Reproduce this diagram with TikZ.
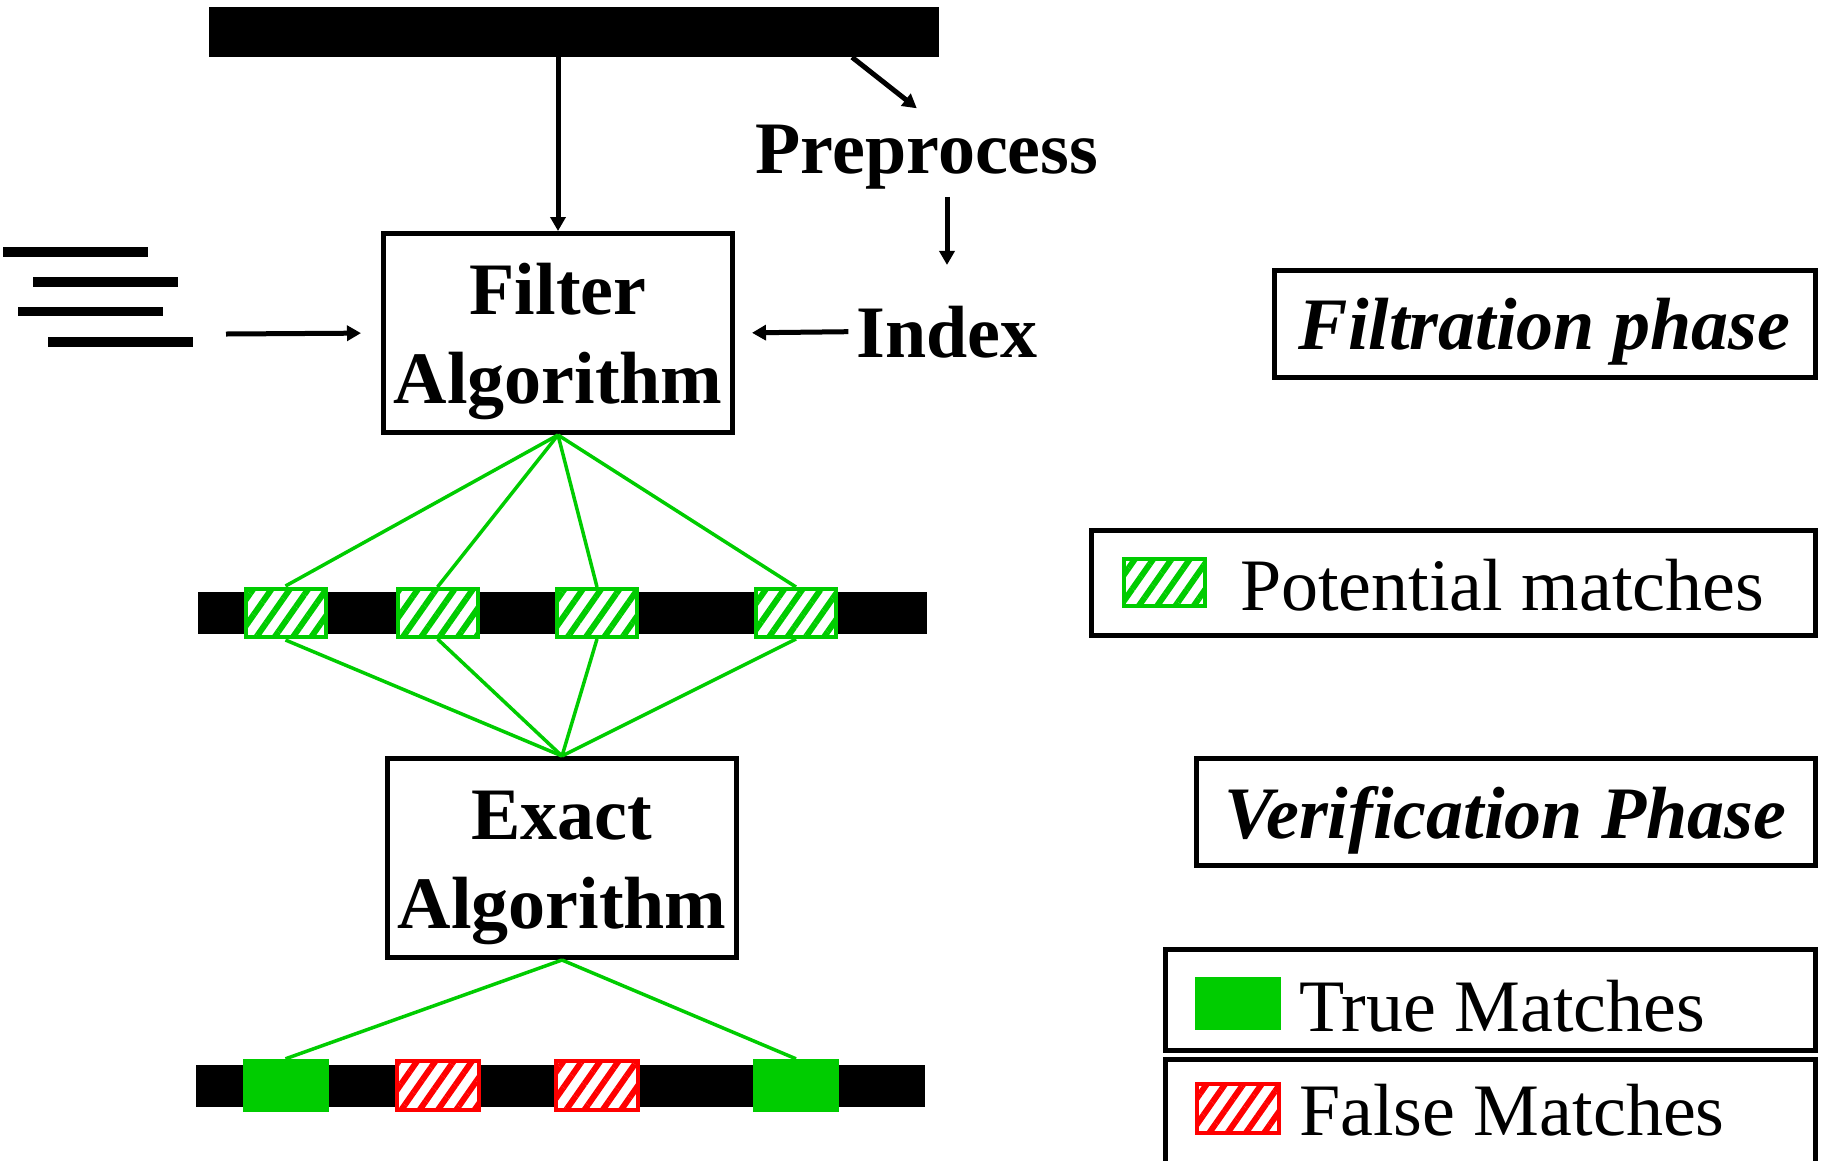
\documentclass[tikz,border=0pt]{standalone}
\usepackage{fontspec}
\setmainfont{Liberation Serif}
\usetikzlibrary{arrows.meta,positioning,patterns.meta}
\definecolor{hitgreen}{RGB}{0,204,0}
\definecolor{hitred}{RGB}{255,0,0}

\begin{document}
\begin{tikzpicture}[x=1pt, y=1pt, font=\fontsize{74}{89}\selectfont,
      arr/.style={-{Triangle[length=14pt,width=15pt]}, line width=5pt},
      algbox/.style={draw, line width=5pt, minimum width=349pt, minimum height=199pt, align=center,
                     text depth=0pt, font=\fontsize{74}{89}\selectfont\bfseries},
      phasebox/.style={draw, line width=5pt, minimum height=107pt, inner sep=0pt, text depth=0pt,
                       font=\fontsize{74}{89}\selectfont\bfseries\itshape},
      keybox/.style={draw, line width=5pt, inner sep=0pt},
      lbl/.style={inner sep=8pt, font=\fontsize{74}{89}\selectfont\bfseries},
      keytxt/.style={anchor=base west, inner sep=0pt},
      seq/.style={fill=black, inner sep=0pt, minimum width=729pt, minimum height=42pt},
      hatchg/.style={draw=hitgreen, line width=4pt, inner sep=0pt, minimum width=80pt, minimum height=48pt,
                     preaction={fill=white}, pattern={Lines[angle=55,distance=15pt,line width=6pt]},
                     pattern color=hitgreen},
      hatchr/.style={draw=hitred, line width=4pt, inner sep=0pt, minimum width=82pt, minimum height=49pt,
                     preaction={fill=white}, pattern={Lines[angle=55,distance=15pt,line width=6pt]},
                     pattern color=hitred},
      solidg/.style={fill=hitgreen, inner sep=0pt, minimum width=86pt, minimum height=53pt},
      link/.style={draw=hitgreen, line width=3.5pt}]

    \useasboundingbox (0,0) rectangle (1822,-1160);
    \clip (0,0) rectangle (1822,-1160);

    \node[fill=black, inner sep=0pt, minimum width=730pt, minimum height=50pt] (textbar) at (574,-32) {};

    \foreach \x/\y in {3/247, 33/277, 18/306.5, 48/337} { \fill (\x,-\y) rectangle ++(145,-9.5); }
    \coordinate (qin) at (226,-334);

    \node[algbox] (filt) at (558,-333) {\rule{0pt}{52pt}Filter\\Algorithm};
    \node[lbl, anchor=base] (prep) at (927,-173) {Preprocess};
    \node[lbl, anchor=base] (idx) at (947,-357) {Index};

    \draw[arr] (textbar.south -| filt.north) -- (filt.north);
    \draw[arr, shorten >=13pt] ([xshift=278pt]textbar.south) -- (prep.north);
    \draw[arr] (prep.south -| idx.north) -- ++(0,-68);
    \draw[arr, shorten >=20pt] (qin) -- (filt.west);
    \draw[arr, shorten >=17pt] (idx.west) -- (filt.east);

    \node[seq] (midseq) at (562.5,-613) {};
    \foreach \i/\x in {1/285.5, 2/437.5, 3/597, 4/796} { \node[hatchg] (pm\i) at (\x,-613) {}; }

    \node[algbox] (exact) at (562,-858) {\rule{0pt}{52pt}Exact\\Algorithm};

    \foreach \i in {1,...,4} {
      \draw[link] (filt.south) -- (pm\i.north);
      \draw[link] (pm\i.south) -- (exact.north);
    }

    \node[seq] (lowseq) at (560.5,-1085.5) {};
    \node[solidg] (m1) at (285.5,-1085.5) {};
    \node[hatchr] (m2) at (437.5,-1085.5) {};
    \node[hatchr] (m3) at (597,-1085.5) {};
    \node[solidg] (m4) at (796,-1085.5) {};
    \draw[link] (exact.south) -- (m1.north);
    \draw[link] (exact.south) -- (m4.north);

    \node[phasebox, minimum width=541pt] (filtph) at (1544.5,-324) {Filtration phase};
    \node[phasebox, minimum width=619pt] (verph) at (1505.5,-812) {Verification Phase};

    \node[keybox, minimum width=724pt, minimum height=105pt] (pmbox) at (1453,-583) {};
    \node[hatchg, minimum width=81pt, minimum height=47pt] (pmkey) at (1164.5,-582.5) {};
    \node[keytxt] at (1240,-610) {Potential matches};

    \node[keybox, minimum width=650pt, minimum height=101pt] (tmbox) at (1490,-1000) {};
    \node[solidg] (tmkey) at (1238,-1003) {};
    \node[keytxt] at (1299,-1031) {True Matches};

    \node[keybox, minimum width=650pt, minimum height=120pt] (fmbox) at (1490,-1119.5) {};
    \node[hatchr] (fmkey) at (1238,-1108) {};
    \node[keytxt] at (1299,-1135) {False Matches};
  \end{tikzpicture}
\end{document}
